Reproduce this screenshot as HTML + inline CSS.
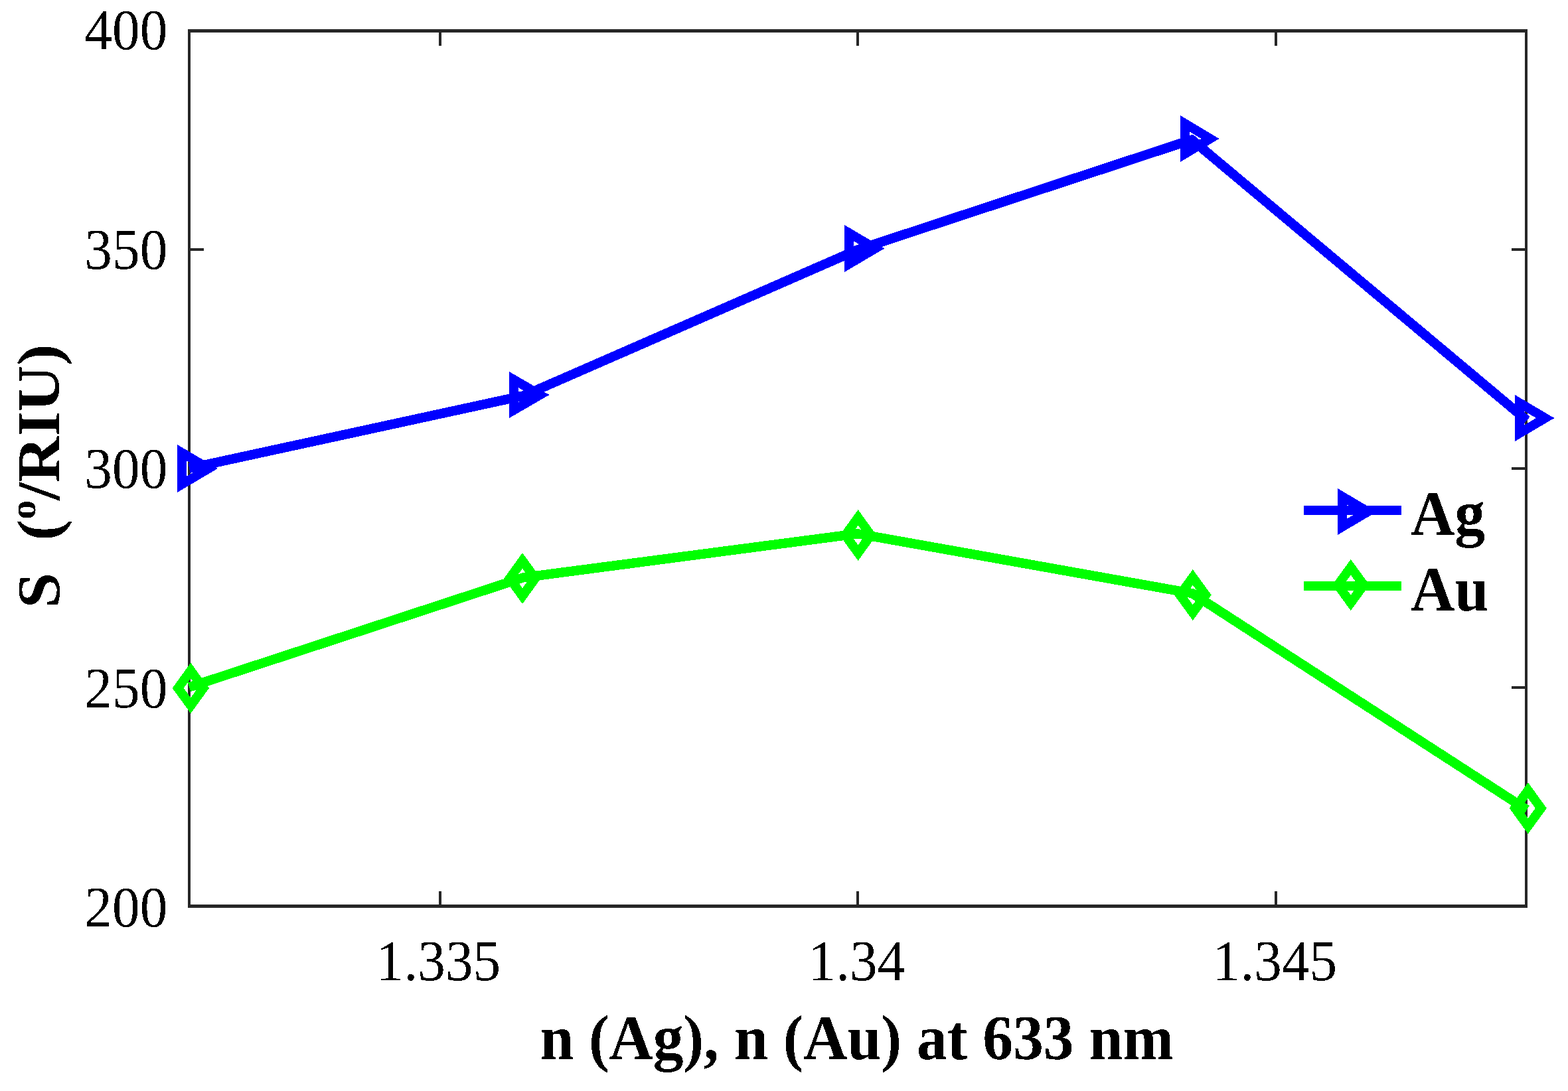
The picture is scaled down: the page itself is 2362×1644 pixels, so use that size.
<!DOCTYPE html>
<html lang="en"><head><meta charset="utf-8"><title>S vs n (Ag, Au) at 633 nm</title>
<style>
html,body{margin:0;padding:0;background:#fff;}
body{width:2362px;height:1644px;overflow:hidden;}
svg{display:block;}
text{font-family:"Liberation Serif","DejaVu Serif",serif;fill:#000;}
.tk{font-size:83.33px;}
.lb{font-size:91.67px;font-weight:bold;}
</style></head><body>
<svg width="2362" height="1644" viewBox="0 0 2362 1644">
<rect x="0" y="0" width="2362" height="1644" fill="#fff"/>
<defs><filter id="bw" filterUnits="userSpaceOnUse" x="0" y="0" width="2362" height="1644" color-interpolation-filters="sRGB"><feComponentTransfer><feFuncA type="discrete" tableValues="0 1"/></feComponentTransfer></filter></defs>
<g fill="#262626" shape-rendering="crispEdges">
<rect x="283" y="44" width="2018" height="5"/>
<rect x="283" y="1363" width="2018" height="5"/>
<rect x="283" y="44" width="4" height="1324"/>
<rect x="2297" y="44" width="4" height="1324"/>
<rect x="661" y="1343" width="4" height="22"/>
<rect x="661" y="47" width="4" height="22"/>
<rect x="1290" y="1343" width="4" height="22"/>
<rect x="1290" y="47" width="4" height="22"/>
<rect x="1920" y="1343" width="4" height="22"/>
<rect x="1920" y="47" width="4" height="22"/>
<rect x="285" y="374" width="22" height="4"/>
<rect x="2277" y="374" width="22" height="4"/>
<rect x="285" y="704" width="22" height="4"/>
<rect x="2277" y="704" width="22" height="4"/>
<rect x="285" y="1034" width="22" height="4"/>
<rect x="2277" y="1034" width="22" height="4"/>
</g>
<g filter="url(#bw)">
<text class="tk" text-anchor="end" transform="translate(252.3,74.2) scale(1,1.03)">400</text>
<text class="tk" text-anchor="end" transform="translate(252.3,405.0) scale(1,1.03)">350</text>
<text class="tk" text-anchor="end" transform="translate(252.3,735.0) scale(1,1.03)">300</text>
<text class="tk" text-anchor="end" transform="translate(252.3,1065.6) scale(1,1.03)">250</text>
<text class="tk" text-anchor="end" transform="translate(252.3,1396.0) scale(1,1.03)">200</text>
<text class="tk" text-anchor="middle" transform="translate(660.5,1476.5) scale(1,1.03)">1.335</text>
<text class="tk" text-anchor="middle" transform="translate(1290.5,1476.5) scale(1,1.03)">1.34</text>
<text class="tk" text-anchor="middle" transform="translate(1920.5,1476.5) scale(1,1.03)">1.345</text>
<text class="lb" text-anchor="middle" transform="translate(1290.5,1596.3) scale(1,1.05)">n (Ag), n (Au) at 633 nm</text>
<text class="lb" text-anchor="middle" xml:space="preserve" style="white-space:pre" transform="translate(89.1,717.5) scale(1,1.05) rotate(-90)">S  (<tspan font-size="55" dy="-36">o</tspan><tspan dy="36">/RIU)</tspan></text>
<text class="lb" text-anchor="start" transform="translate(2125,805.8) scale(1,1.05)">Ag</text>
<text class="lb" text-anchor="start" transform="translate(2125,920) scale(1,1.05)">Au</text>
</g>
<g fill="none" stroke-width="14.4" stroke-linejoin="miter" stroke-miterlimit="10" stroke-linecap="butt" shape-rendering="crispEdges">
<path stroke="#0000ff" d="M285.00,705.70L789.00,596.20L1292.00,376.30L1795.40,210.50L2300.10,633.40"/>
<path stroke="#0000ff" stroke-width="13.9" d="M274.02,682.11L314.35,705.96L274.02,729.82Z"/>
<path stroke="#0000ff" stroke-width="13.9" d="M773.99,572.04L813.56,595.01L773.99,617.98Z"/>
<path stroke="#0000ff" stroke-width="13.9" d="M1278.95,351.06L1318.70,374.45L1278.95,397.84Z"/>
<path stroke="#0000ff" stroke-width="13.9" d="M1784.98,186.20L1823.08,209.05L1784.98,231.89Z"/>
<path stroke="#0000ff" stroke-width="13.9" d="M2289.02,607.14L2327.73,629.99L2289.02,652.83Z"/>
<path stroke="#00ff00" d="M285.00,1035.40L788.50,870.25L1292.00,804.20L1796.20,894.20L2300.00,1220.25"/>
<path stroke="#00ff00" stroke-width="13.9" d="M287.30,1010.54L306.42,1036.90L287.30,1063.26L268.18,1036.90Z"/>
<path stroke="#00ff00" stroke-width="13.9" d="M787.00,844.91L806.23,871.52L787.00,898.13L767.77,871.52Z"/>
<path stroke="#00ff00" stroke-width="13.9" d="M1292.60,779.91L1311.83,806.52L1292.60,833.13L1273.37,806.52Z"/>
<path stroke="#00ff00" stroke-width="13.9" d="M1796.80,869.85L1816.20,896.52L1796.80,923.19L1777.40,896.52Z"/>
<path stroke="#00ff00" stroke-width="13.9" d="M2301.80,1190.94L2321.31,1217.85L2301.80,1244.76L2282.29,1217.85Z"/>
<path stroke="#0000ff" stroke-width="14.0" d="M1964.0,769.0H2111.0"/>
<path stroke="#0000ff" stroke-width="13.9" d="M2021.87,748.07L2060.64,770.99L2021.87,793.91Z"/>
<path stroke="#00ff00" stroke-width="14.0" d="M1964.0,883.0H2111.0"/>
<path stroke="#00ff00" stroke-width="13.9" d="M2034.80,854.69L2054.31,881.54L2034.80,908.38L2015.29,881.54Z"/>
</g>
</svg></body></html>
